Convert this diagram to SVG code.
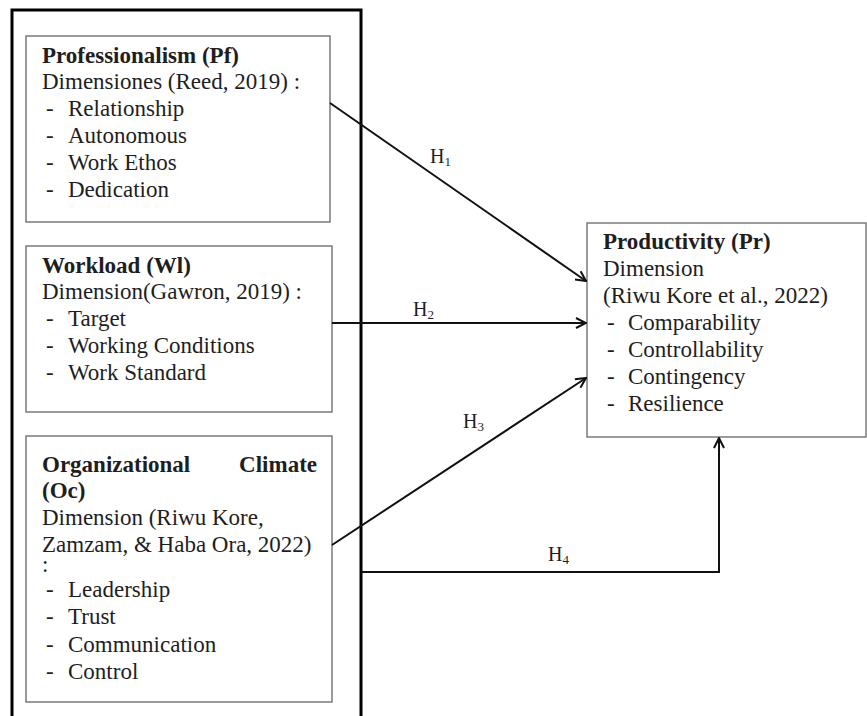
<svg xmlns="http://www.w3.org/2000/svg" width="867" height="716" viewBox="0 0 867 716">
<defs>
<style>
text{font-family:"Liberation Serif","Times New Roman",serif;font-size:23px;fill:#1e1e1e}
.b{font-weight:bold}
.box{fill:#ffffff;stroke:#7a7a7a;stroke-width:1.5}
.outer{fill:none;stroke:#000;stroke-width:3}
.con{fill:none;stroke:#111;stroke-width:2}
.h{font-size:20px}
.sub{font-size:13px}
</style>
<marker id="arr" viewBox="0 0 12 12" refX="11" refY="6" markerWidth="12" markerHeight="12" markerUnits="userSpaceOnUse" orient="auto">
<path d="M1,1 L11,6 L1,11" fill="none" stroke="#111" stroke-width="2"/>
</marker>
</defs>
<rect width="867" height="716" fill="#ffffff"/>
<rect class="outer" x="12" y="10" width="349" height="720"/>

<g id="pf">
<rect class="box" x="26" y="36" width="304" height="186"/>
<text class="b" x="42" y="63">Professionalism (Pf)</text>
<text x="42" y="89">Dimensiones (Reed, 2019) :</text>
<text x="46" y="116">-</text><text x="68" y="116">Relationship</text>
<text x="46" y="143">-</text><text x="68" y="143">Autonomous</text>
<text x="46" y="170">-</text><text x="68" y="170">Work Ethos</text>
<text x="46" y="197">-</text><text x="68" y="197">Dedication</text>
</g>

<g id="wl">
<rect class="box" x="26" y="246" width="306" height="166"/>
<text class="b" x="42" y="273">Workload (Wl)</text>
<text x="42" y="299">Dimension(Gawron, 2019) :</text>
<text x="46" y="326">-</text><text x="68" y="326">Target</text>
<text x="46" y="353">-</text><text x="68" y="353">Working Conditions</text>
<text x="46" y="380">-</text><text x="68" y="380">Work Standard</text>
</g>

<g id="oc">
<rect class="box" x="26" y="436" width="306" height="266"/>
<text class="b" x="42" y="472">Organizational</text>
<text class="b" x="317" y="472" text-anchor="end">Climate</text>
<text class="b" x="42" y="498">(Oc)</text>
<text x="42" y="525">Dimension (Riwu Kore,</text>
<text x="42" y="552">Zamzam, &amp; Haba Ora, 2022)</text>
<text x="42" y="572">:</text>
<text x="46" y="597">-</text><text x="68" y="597">Leadership</text>
<text x="46" y="624">-</text><text x="68" y="624">Trust</text>
<text x="46" y="652">-</text><text x="68" y="652">Communication</text>
<text x="46" y="679">-</text><text x="68" y="679">Control</text>
</g>

<g id="pr">
<rect class="box" x="587" y="223" width="279" height="214"/>
<text class="b" x="603" y="249">Productivity (Pr)</text>
<text x="603" y="276">Dimension</text>
<text x="603" y="303">(Riwu Kore et al., 2022)</text>
<text x="607" y="330">-</text><text x="628" y="330">Comparability</text>
<text x="607" y="357">-</text><text x="628" y="357">Controllability</text>
<text x="607" y="384">-</text><text x="628" y="384">Contingency</text>
<text x="607" y="411">-</text><text x="628" y="411">Resilience</text>
</g>

<g id="connectors">
<line class="con" x1="330" y1="103" x2="586" y2="281" marker-end="url(#arr)"/>
<line class="con" x1="332" y1="323" x2="586" y2="323" marker-end="url(#arr)"/>
<line class="con" x1="332" y1="545" x2="586" y2="378" marker-end="url(#arr)"/>
<polyline class="con" points="361,572 719,572 719,438" marker-end="url(#arr)"/>
<text class="h" x="430" y="163">H<tspan class="sub" dy="3">1</tspan></text>
<text class="h" x="413" y="316">H<tspan class="sub" dy="3">2</tspan></text>
<text class="h" x="463" y="428">H<tspan class="sub" dy="3">3</tspan></text>
<text class="h" x="548" y="561">H<tspan class="sub" dy="3">4</tspan></text>
</g>
</svg>
